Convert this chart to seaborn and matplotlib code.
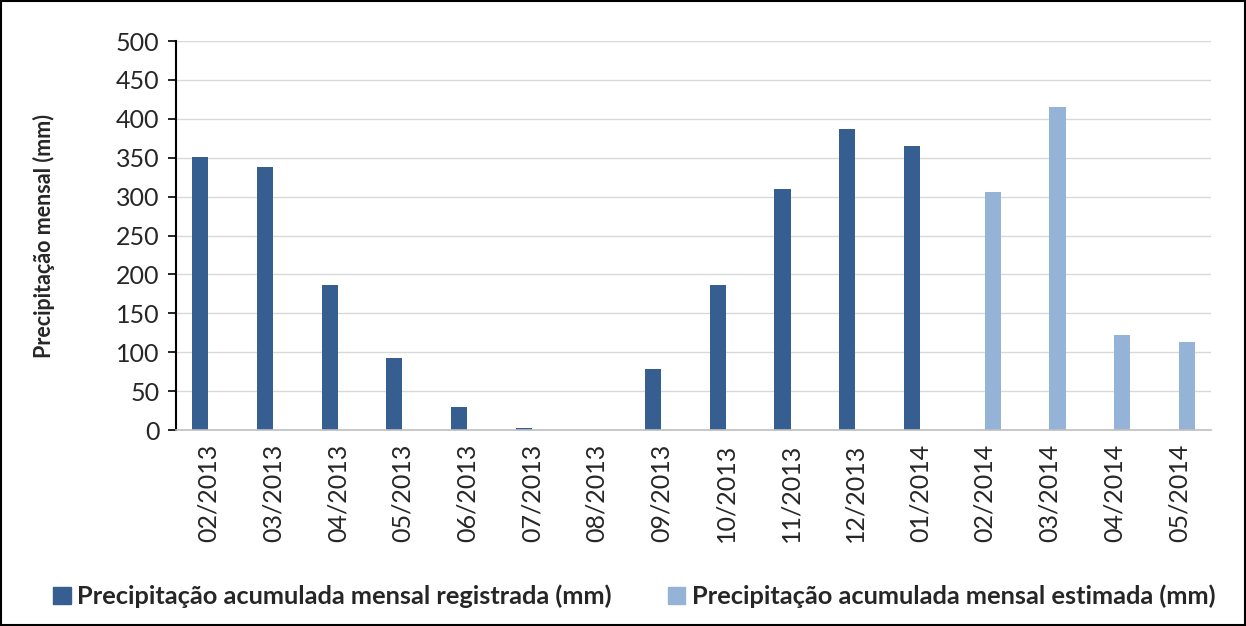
import pandas as pd
import matplotlib.pyplot as plt
import seaborn as sns
from matplotlib.patches import Patch

months = ['02/2013', '03/2013', '04/2013', '05/2013', '06/2013', '07/2013', '08/2013', '09/2013',
          '10/2013', '11/2013', '12/2013', '01/2014', '02/2014', '03/2014', '04/2014', '05/2014']
registrada = [351, 338, 186, 92, 30, 3, 0, 78, 186, 310, 387, 365, 0, 0, 0, 0]
estimada = [0, 0, 0, 0, 0, 0, 0, 0, 0, 0, 0, 0, 306, 415, 122, 113]

lab_reg = 'Precipitação acumulada mensal registrada (mm)'
lab_est = 'Precipitação acumulada mensal estimada (mm)'
colors = {lab_reg: '#375E91', lab_est: '#95B3D7'}

df = pd.DataFrame({
    'mes': months * 2,
    'valor': registrada + estimada,
    'serie': [lab_reg] * len(months) + [lab_est] * len(months),
})

sns.set_style('white')
plt.rcParams['font.family'] = ['Lato', 'DejaVu Sans']

fig = plt.figure(figsize=(12.46, 6.26), dpi=100)
ax = fig.add_axes([0.1413, 0.313, 0.8307, 0.6215])

sns.barplot(data=df, x='mes', y='valor', hue='serie', palette=colors, width=0.5,
            ax=ax, legend=False, saturation=1, edgecolor='none')

ax.set_ylim(0, 500)
ax.set_yticks(range(0, 501, 50))
ax.set_xlim(-0.5, len(months) - 0.5)
ax.yaxis.grid(True, color='#D9D9D9', linewidth=1)
ax.set_axisbelow(True)
ax.set_xlabel('')
ax.set_ylabel('Precipitação mensal (mm)', fontsize=15.5, fontweight='bold', labelpad=44)
ax.tick_params(axis='y', labelsize=18, length=6, width=1.2, color='black', left=True, pad=6)
ax.tick_params(axis='x', labelsize=18, length=0, pad=10, rotation=90)

for s in ['top', 'right']:
    ax.spines[s].set_visible(False)
ax.spines['left'].set_color('black')
ax.spines['left'].set_linewidth(1.5)
ax.spines['bottom'].set_color('#BFBFBF')
ax.spines['bottom'].set_linewidth(1.2)

handles = [Patch(color=colors[lab_reg], label=lab_reg), Patch(color=colors[lab_est], label=lab_est)]
fig.legend(handles=handles, loc='center', bbox_to_anchor=(0.509, 0.047), ncol=2, frameon=False,
           prop={'weight': 'bold', 'size': 18.3}, handlelength=0.7, handleheight=0.7,
           handletextpad=0.25, columnspacing=2.2)

fig.patches.append(plt.Rectangle((0.001, 0.001), 0.998, 0.997, transform=fig.transFigure,
                                 fill=False, edgecolor='black', linewidth=1.5))

fig.savefig('out.png', dpi=100)
